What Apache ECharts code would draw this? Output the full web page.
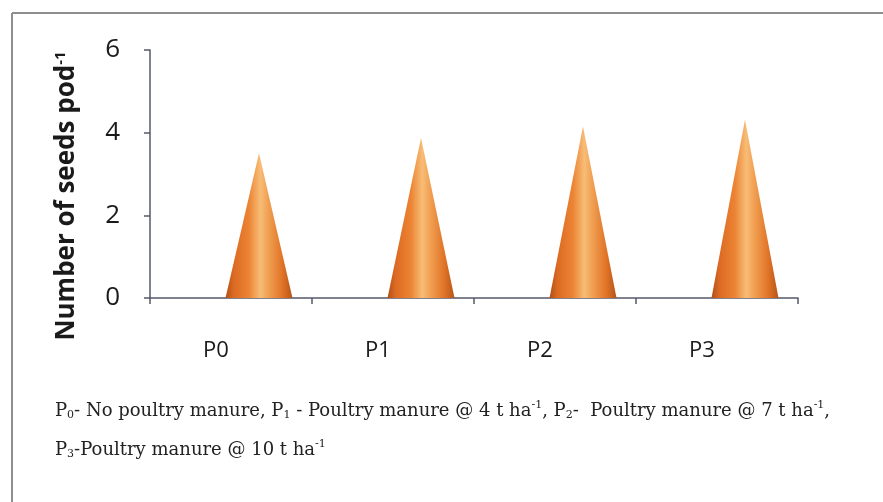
<!DOCTYPE html>
<html>
<head>
<meta charset="utf-8">
<script src="https://cdn.jsdelivr.net/npm/echarts@6/dist/echarts.min.js"></script>
<style>
  html, body { margin: 0; padding: 0; background: #ffffff; }
  #chart { width: 883px; height: 502px; }
</style>
</head>
<body>
<div id="chart"></div>
<script>
// Treatments and mean number of seeds per pod
var categories = ['P0', 'P1', 'P2', 'P3'];
var seedsPerPod = [3.5, 3.87, 4.15, 4.31];
var yTicks = { min: 0, max: 6, interval: 2 };

var chart = echarts.init(document.getElementById('chart'));

// Cone shading: dark rim, orange body, pale highlight just right of centre
var coneFill = new echarts.graphic.LinearGradient(0, 0, 1, 0, [
  { offset: 0.00, color: '#b04f18' },
  { offset: 0.12, color: '#dc6a22' },
  { offset: 0.35, color: '#ec8434' },
  { offset: 0.52, color: '#f7bd76' },
  { offset: 0.62, color: '#f2a457' },
  { offset: 0.85, color: '#e07326' },
  { offset: 1.00, color: '#b5551a' }
]);

var axisColor = '#55586a';
var keyFont = 'DejaVu Serif';

chart.setOption({
  backgroundColor: '#ffffff',
  animation: false,
  grid: { left: 150, right: 85, top: 50, bottom: 204 },
  xAxis: {
    type: 'category',
    data: categories,
    boundaryGap: true,
    axisLine: { lineStyle: { color: axisColor, width: 1.5 } },
    axisTick: { show: true, length: 6, lineStyle: { color: axisColor, width: 1.5 } },
    axisLabel: {
      color: '#1a1a1a',
      fontFamily: 'Open Sans',
      fontSize: 22,
      margin: 42,
      padding: [0, 30, 0, 0]
    }
  },
  yAxis: {
    type: 'value',
    min: yTicks.min,
    max: yTicks.max,
    interval: yTicks.interval,
    splitLine: { show: false },
    axisLine: { show: true, lineStyle: { color: axisColor, width: 1.5 } },
    axisTick: { show: true, length: 6, lineStyle: { color: axisColor, width: 1.5 } },
    axisLabel: {
      color: '#1a1a1a',
      fontFamily: 'Open Sans',
      fontSize: 26,
      margin: 30
    }
  },
  series: [{
    type: 'pictorialBar',
    data: seedsPerPod,
    symbol: 'triangle',
    symbolSize: [67, '100%'],
    symbolOffset: [28, 0],
    itemStyle: { color: coneFill }
  }],
  graphic: [
    // frame
    { type: 'line', shape: { x1: 12, y1: 13, x2: 883, y2: 13 }, style: { stroke: '#8e8e8e', lineWidth: 2 } },
    { type: 'line', shape: { x1: 12, y1: 13, x2: 12, y2: 502 }, style: { stroke: '#8e8e8e', lineWidth: 2 } },
    // y-axis title
    {
      type: 'text',
      x: 67, y: 196,
      rotation: Math.PI / 2,
      style: {
        text: '{t|Number of seeds pod}{s|-1}',
        align: 'center',
        verticalAlign: 'middle',
        rich: {
          t: { fontFamily: 'Open Sans', fontWeight: 'bold', fontSize: 26, fill: '#1a1a1a' },
          s: { fontFamily: 'Open Sans', fontWeight: 'bold', fontSize: 15, fill: '#1a1a1a', verticalAlign: 'top', padding: [0, 0, 12, 0] }
        }
      }
    },
    // treatment key
    {
      type: 'text',
      x: 55, y: 411,
      style: {
        text: '{n|P}{sub|0}{n|- No poultry manure, P}{sub|1}{n| - Poultry manure @ 4 t ha}{sup|-1}{n|, P}{sub|2}{n|-  Poultry manure @ 7 t ha}{sup|-1}{n|,}',
        verticalAlign: 'middle',
        rich: {
          n: { fontFamily: keyFont, fontSize: 18, fill: '#222' },
          sub: { fontFamily: keyFont, fontSize: 11, fill: '#222', padding: [9, 0, 0, 0] },
          sup: { fontFamily: keyFont, fontSize: 11, fill: '#222', padding: [0, 0, 11, 0] }
        }
      }
    },
    {
      type: 'text',
      x: 55, y: 450,
      style: {
        text: '{n|P}{sub|3}{n|-Poultry manure @ 10 t ha}{sup|-1}',
        verticalAlign: 'middle',
        rich: {
          n: { fontFamily: keyFont, fontSize: 18, fill: '#222' },
          sub: { fontFamily: keyFont, fontSize: 11, fill: '#222', padding: [9, 0, 0, 0] },
          sup: { fontFamily: keyFont, fontSize: 11, fill: '#222', padding: [0, 0, 11, 0] }
        }
      }
    }
  ]
});
</script>
</body>
</html>
